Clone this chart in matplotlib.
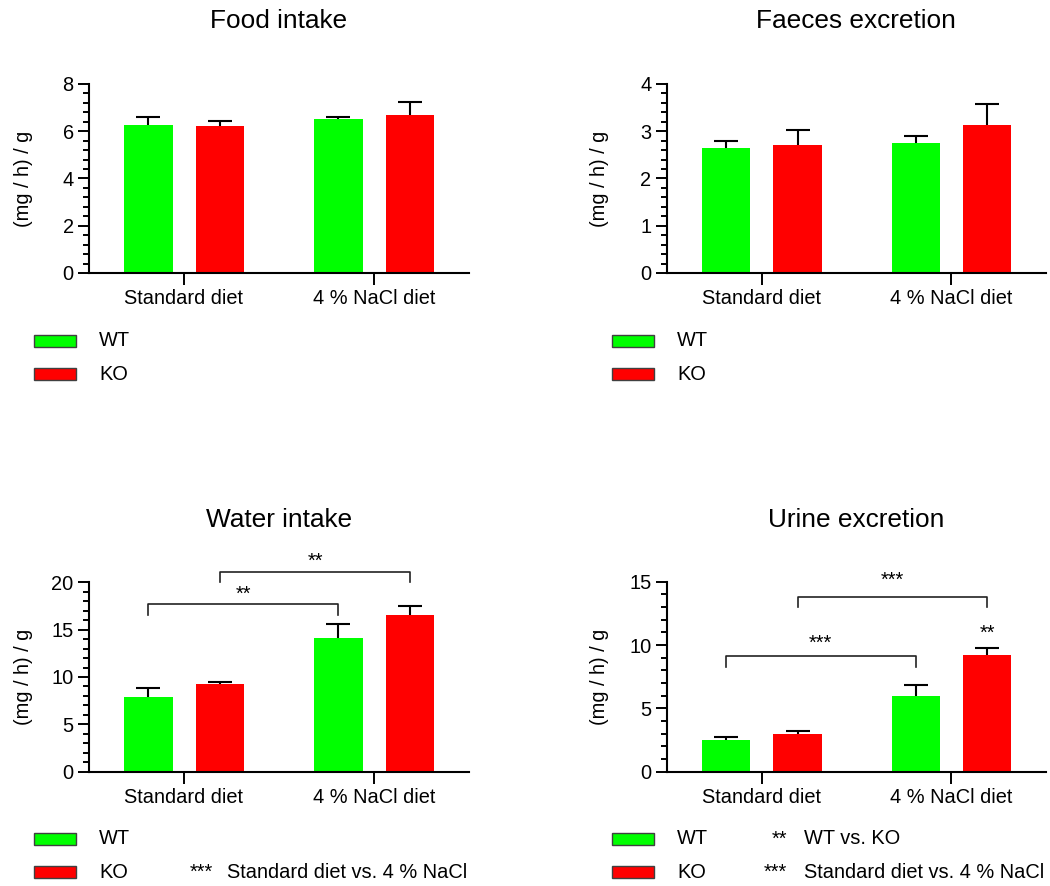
import matplotlib
matplotlib.use("Agg")
import matplotlib.pyplot as plt
from matplotlib.patches import Rectangle
from matplotlib.ticker import MultipleLocator
import numpy as np

plt.rcParams['font.family'] = ['Liberation Sans', 'DejaVu Sans']

# ---------------- data ----------------
categories = ["Standard diet", "4 % NaCl diet"]
groups = ["WT", "KO"]
colors = ["#00FF00", "#FF0000"]

titles = ["Food intake", "Faeces excretion", "Water intake", "Urine excretion"]

food_wt = [6.25, 6.51]
food_wt_err = [0.34, 0.11]
food_ko = [6.21, 6.68]
food_ko_err = [0.24, 0.56]

faeces_wt = [2.64, 2.75]
faeces_wt_err = [0.16, 0.15]
faeces_ko = [2.70, 3.13]
faeces_ko_err = [0.33, 0.45]

water_wt = [7.89, 14.12]
water_wt_err = [0.91, 1.51]
water_ko = [9.26, 16.55]
water_ko_err = [0.25, 0.99]

urine_wt = [2.50, 5.97]
urine_wt_err = [0.21, 0.87]
urine_ko = [2.97, 9.21]
urine_ko_err = [0.27, 0.55]

y_max = [8, 4, 20, 15]
y_major = [2, 1, 5, 5]
y_minor = [0.4, 0.2, 1, 1]

# significance brackets: (group_a, cat_a, group_b, cat_b, bracket_y, leg_y, star_y, label)
water_brackets = [(0, 0, 0, 1, 17.7, 16.5, 19.37, "**"),
                  (1, 0, 1, 1, 21.1, 20.0, 22.9, "**")]
urine_brackets = [(0, 0, 0, 1, 9.13, 8.24, 10.66, "***"),
                  (1, 0, 1, 1, 13.8, 12.97, 15.58, "***")]
urine_single = [(1, 1, 11.45, "**")]

legend_notes_water = [("***", "Standard diet vs. 4 % NaCl")]
legend_notes_urine = [("**", "WT vs. KO"), ("***", "Standard diet vs. 4 % NaCl")]

# ---------------- layout ----------------
W, H = 1050, 886
fig = plt.figure(figsize=(W / 100, H / 100), dpi=100)

def fx(px):
    return px / W

def fy(py):
    return 1 - py / H

axes_px = [  # left, top, right, bottom in pixels
    (89, 84, 469, 273),
    (666.7, 84, 1046, 273),
    (89, 582.3, 469, 771.7),
    (666.7, 581.7, 1046, 771.7),
]
ylabel_right_px = [33, 609, 33, 609]

FS = 14.4
TFS = 18.9
offsets = [-0.1875, 0.19]
bar_w = 0.254

panel_data = [
    (food_wt, food_wt_err, food_ko, food_ko_err),
    (faeces_wt, faeces_wt_err, faeces_ko, faeces_ko_err),
    (water_wt, water_wt_err, water_ko, water_ko_err),
    (urine_wt, urine_wt_err, urine_ko, urine_ko_err),
]

axes = []
for i, (l, t, r, b) in enumerate(axes_px):
    ax = fig.add_axes([fx(l), fy(b), fx(r - l), (b - t) / H])
    axes.append(ax)
    wt, wte, ko, koe = panel_data[i]
    x = np.arange(len(categories))
    for gi, (vals, errs) in enumerate([(wt, wte), (ko, koe)]):
        ax.bar(x + offsets[gi], vals, width=bar_w, color=colors[gi],
               edgecolor='none', zorder=2)
        eb = ax.errorbar(x + offsets[gi], vals,
                         yerr=[np.zeros(len(vals)), errs], fmt='none',
                         ecolor='black', elinewidth=1.5, capsize=8.6,
                         capthick=1.5, zorder=3)
        caps = eb.lines[1]
        if len(caps) == 2:
            caps[0].set_visible(False)
    ax.set_xlim(-0.5, 1.5)
    ax.set_ylim(0, y_max[i])
    ax.set_xticks(x)
    ax.set_xticklabels(categories, fontsize=FS)
    ax.yaxis.set_major_locator(MultipleLocator(y_major[i]))
    ax.yaxis.set_minor_locator(MultipleLocator(y_minor[i]))
    ax.tick_params(axis='y', which='major', length=8, width=1.4,
                   labelsize=FS, pad=3)
    ax.tick_params(axis='y', which='minor', length=4.3, width=1.4)
    ax.tick_params(axis='x', which='major', length=8.6, width=1.4,
                   labelsize=FS, pad=3)
    ax.tick_params(axis='x', which='minor', bottom=False)
    for s in ['top', 'right']:
        ax.spines[s].set_visible(False)
    for s in ['left', 'bottom']:
        ax.spines[s].set_linewidth(1.5)
    ax.set_ylabel("(mg / h) / g", fontsize=FS)
    ax.yaxis.set_label_coords((ylabel_right_px[i] - l) / (r - l), 0.5)
    ax.patch.set_alpha(0)
    # titles
    fig.text(fx((l + r) / 2), fy(21 if t < 300 else 520), titles[i],
             fontsize=TFS, ha='center', va='center')

def draw_brackets(ax, brackets):
    for ga, ca, gb, cb, by, ly, sy, lab in brackets:
        xa = ca + offsets[ga]
        xb = cb + offsets[gb]
        ax.plot([xa, xa, xb, xb], [ly, by, by, ly], color='#222222',
                lw=1.2, clip_on=False, zorder=4)
        ax.annotate(lab, xy=((xa + xb) / 2, sy), xytext=(0, -8.4),
                    textcoords='offset points', ha='center', va='baseline',
                    fontsize=FS, annotation_clip=False)

draw_brackets(axes[2], water_brackets)
draw_brackets(axes[3], urine_brackets)
for g, c, sy, lab in urine_single:
    axes[3].annotate(lab, xy=(c + offsets[g], sy), xytext=(0, -8.4),
                     textcoords='offset points', ha='center', va='baseline',
                     fontsize=FS, annotation_clip=False)

# ---------------- legends ----------------
def legend(x0, y_rows, notes=None, star_right=None, note_left=None):
    for gi, yc in enumerate(y_rows):
        rect = Rectangle((fx(x0), fy(yc + 6)), fx(42), 12 / H,
                         transform=fig.transFigure, facecolor=colors[gi],
                         edgecolor='#404040', linewidth=1.0)
        fig.add_artist(rect)
        fig.text(fx(x0 + 65), fy(yc), groups[gi], fontsize=FS,
                 ha='left', va='center')
    if notes:
        rows = y_rows[-len(notes):]
        for (st, txt), yc in zip(notes, rows):
            fig.text(fx(star_right), fy(yc), st, fontsize=FS,
                     ha='right', va='center')
            fig.text(fx(note_left), fy(yc), txt, fontsize=FS,
                     ha='left', va='center')

legend(34, [341, 374])
legend(612, [341, 374])
legend(34, [839, 872], legend_notes_water, 213, 227)
legend(612, [839, 872], legend_notes_urine, 787, 804)

fig.savefig("out.png", dpi=100)
